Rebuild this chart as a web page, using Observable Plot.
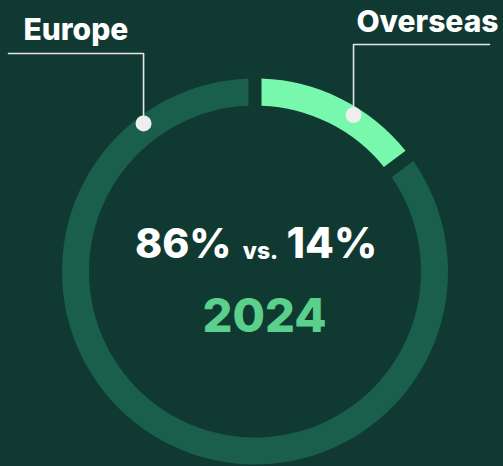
<!DOCTYPE html>
<html>
<head>
<meta charset="utf-8">
<script src="https://cdn.jsdelivr.net/npm/d3@7"></script>
<script src="https://cdn.jsdelivr.net/npm/@observablehq/plot@0.6"></script>
<style>
  html, body { margin: 0; padding: 0; background: #103a31; }
  #chart { width: 503px; height: 466px; }
</style>
</head>
<body>
<div id="chart"></div>
<script>
// ---- data ----
const categories = ["Europe", "Overseas"];
const values = [86, 14];
const year = "2024";
const colors = ["#1a5e4c", "#78f8ac"];

// ---- layout ----
const W = 503, H = 466;
const cx = 255, cy = 271.5, rOuter = 193, rInner = 166;
const gap = 13;
// label anchors (angle in degrees, clockwise from top) and label lines
const anchors = [
  {angle: -37, r: 186, lineY: 53, lineX2: 8, textX: 23, textY: 39},
  {angle: 32, r: 185, lineY: 44, lineX2: 489, textX: 498, textY: 31}
];

const pie = d3.pie().sortValues((a, b) => a - b).startAngle(0).endAngle(2 * Math.PI)
  .padAngle(gap / rOuter);
const arcs = pie(values).map((a, i) => ({...a, category: categories[i], color: colors[i]}));

const arcGen = d3.arc().innerRadius(rInner).outerRadius(rOuter).padRadius(rOuter);

const ringMark = (index, scales) => {
  const g = d3.create("svg:g")
    .attr("transform", `translate(${scales.x(cx)},${scales.y(cy)})`);
  g.selectAll("path").data(arcs).join("path")
    .attr("d", arcGen)
    .attr("fill", d => d.color);
  return g.node();
};

const labels = categories.map((c, i) => {
  const a = anchors[i];
  const rad = a.angle * Math.PI / 180;
  return {
    category: c,
    dx: cx + a.r * Math.sin(rad),
    dy: cy - a.r * Math.cos(rad),
    ...a
  };
});
const leader = labels.flatMap(l => [
  {category: l.category, x: l.lineX2, y: l.lineY},
  {category: l.category, x: l.dx, y: l.lineY},
  {category: l.category, x: l.dx, y: l.dy}
]);

const pct = values.map(v => `${v}%`);
const font = "Inter, 'Open Sans', sans-serif";
const labelStyle = {x: "textX", y: "textY", text: "category", lineAnchor: "bottom",
  fill: "white", fontSize: 30, fontWeight: 800};

const plot = Plot.plot({
  width: W, height: H,
  margin: 0,
  style: {background: "#103a31", fontFamily: font},
  x: {domain: [0, W], range: [0, W], axis: null},
  y: {domain: [0, H], range: [0, H], axis: null},
  marks: [
    ringMark,
    Plot.line(leader, {x: "x", y: "y", z: "category", stroke: "#e6e6e6", strokeWidth: 1.6}),
    Plot.dot(labels, {x: "dx", y: "dy", r: 8, fill: "#eeeeee", stroke: null}),
    Plot.text(labels.slice(0, 1), {...labelStyle, textAnchor: "start"}),
    Plot.text(labels.slice(1), {...labelStyle, textAnchor: "end"}),
    Plot.text([pct[0]], {x: [231], y: [257], text: d => d, textAnchor: "end", lineAnchor: "bottom",
      fill: "white", fontSize: 41, fontWeight: 800}),
    Plot.text(["vs."], {x: [260], y: [258], text: d => d, textAnchor: "middle", lineAnchor: "bottom",
      fill: "white", fontSize: 23, fontWeight: 800}),
    Plot.text([pct[1]], {x: [286], y: [257], text: d => d, textAnchor: "start", lineAnchor: "bottom",
      fill: "white", fontSize: 42, fontWeight: 800}),
    Plot.text([year], {x: [264], y: [331], text: d => d, textAnchor: "middle", lineAnchor: "bottom",
      fill: "#5ad08c", fontSize: 47, fontWeight: 800})
  ]
});
document.getElementById("chart").appendChild(plot);
</script>
</body>
</html>
